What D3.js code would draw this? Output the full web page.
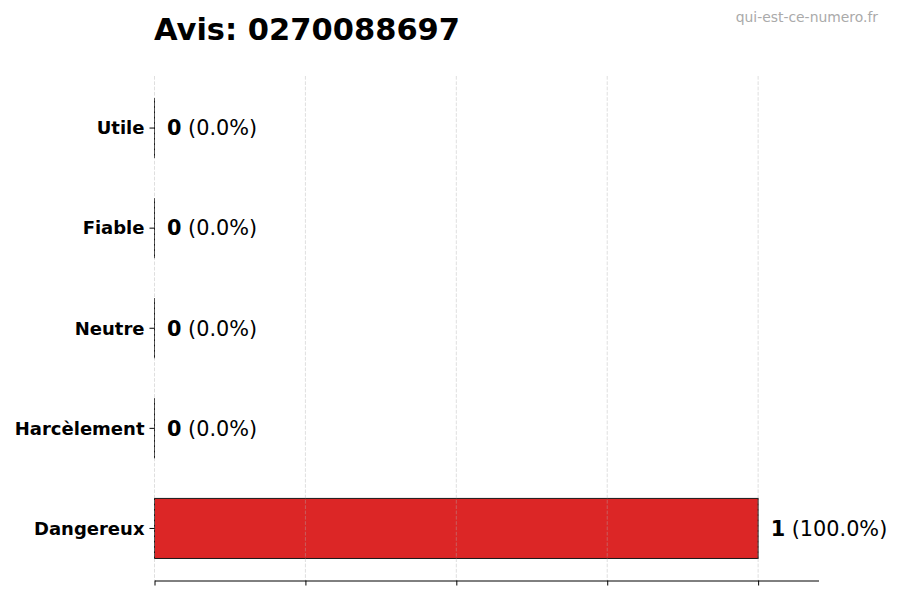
<!DOCTYPE html>
<html>
<head>
<meta charset="utf-8">
<script src="https://cdn.jsdelivr.net/npm/d3@7"></script>
<style>
  body { margin: 0; background: #fff; }
  svg { font-family: "DejaVu Sans", sans-serif; }
</style>
</head>
<body>
<svg id="chart" width="900" height="600"></svg>
<script>
// categories from top to bottom
const categories = ["Utile", "Fiable", "Neutre", "Harcèlement", "Dangereux"];
const counts = [0, 0, 0, 0, 1];
const percents = ["0.0%", "0.0%", "0.0%", "0.0%", "100.0%"];
const xTicks = [0, 0.25, 0.5, 0.75, 1];
const title = "Avis: 0270088697";
const watermark = "qui-est-ce-numero.fr";

const svg = d3.select("#chart");
const plotLeft = 154.5, plotRight = 818.5, plotTop = 76, plotBottom = 580.5;

const x = d3.scaleLinear().domain([0, 1.1]).range([plotLeft, plotRight]);
const y = d3.scaleBand()
  .domain(categories)
  .range([plotTop, plotBottom])
  .paddingInner(0.4)
  .paddingOuter(0.22);

const rows = categories.map((c, i) => ({ name: c, count: counts[i], pct: percents[i] }));

// bars
svg.append("g")
  .selectAll("rect")
  .data(rows)
  .enter()
  .append("rect")
  .attr("x", x(0))
  .attr("y", d => y(d.name))
  .attr("width", d => x(d.count) - x(0))
  .attr("height", y.bandwidth())
  .attr("fill", "#dc2626")
  .attr("stroke", "#1a1a1a")
  .attr("stroke-width", 1);

// zero width bars still show their edge
svg.append("g")
  .selectAll("line")
  .data(rows.filter(d => d.count === 0))
  .enter()
  .append("line")
  .attr("x1", d => x(d.count))
  .attr("x2", d => x(d.count))
  .attr("y1", d => y(d.name))
  .attr("y2", d => y(d.name) + y.bandwidth())
  .attr("stroke", "#1a1a1a")
  .attr("stroke-width", 1);

// grid
svg.append("g")
  .selectAll("line")
  .data(xTicks)
  .enter()
  .append("line")
  .attr("x1", d => x(d))
  .attr("x2", d => x(d))
  .attr("y1", plotTop)
  .attr("y2", plotBottom)
  .attr("stroke", "#b0b0b0")
  .attr("stroke-opacity", 0.5)
  .attr("stroke-width", 0.8)
  .attr("stroke-dasharray", "3.7,1.6");

// bottom axis, no labels
const xAxis = svg.append("g")
  .attr("transform", `translate(0,${plotBottom})`)
  .call(d3.axisBottom(x).tickValues(xTicks).tickFormat("").tickSize(5).tickSizeOuter(0));
xAxis.select(".domain").attr("stroke", "#000").attr("stroke-width", 1);
xAxis.selectAll(".tick line").attr("stroke", "#000").attr("stroke-width", 1);

// left axis, no spine
const yAxis = svg.append("g")
  .attr("transform", `translate(${plotLeft},0)`)
  .call(d3.axisLeft(y).tickSize(5).tickPadding(5));
yAxis.select(".domain").remove();
yAxis.selectAll(".tick line").attr("stroke", "#000").attr("stroke-width", 1);
yAxis.selectAll(".tick text")
  .attr("font-family", "DejaVu Sans")
  .attr("font-size", 18)
  .attr("font-weight", "bold")
  .attr("dy", "0.35em")
  .attr("fill", "#000");

// value labels
const labels = svg.append("g")
  .selectAll("text")
  .data(rows)
  .enter()
  .append("text")
  .attr("x", d => x(d.count) + 12.5)
  .attr("y", d => y(d.name) + y.bandwidth() / 2)
  .attr("dy", "0.35em")
  .attr("font-size", 20.8)
  .attr("fill", "#000");
labels.append("tspan").attr("font-weight", "bold").text(d => d.count);
labels.append("tspan").text(d => " (" + d.pct + ")");

// title
svg.append("text")
  .attr("x", 154)
  .attr("y", 40)
  .attr("font-size", 30.5)
  .attr("font-weight", "bold")
  .attr("fill", "#000")
  .text(title);

svg.append("text")
  .attr("x", 878)
  .attr("y", 22)
  .attr("text-anchor", "end")
  .attr("font-size", 13.9)
  .attr("fill", "#aaaaaa")
  .text(watermark);
</script>
</body>
</html>
